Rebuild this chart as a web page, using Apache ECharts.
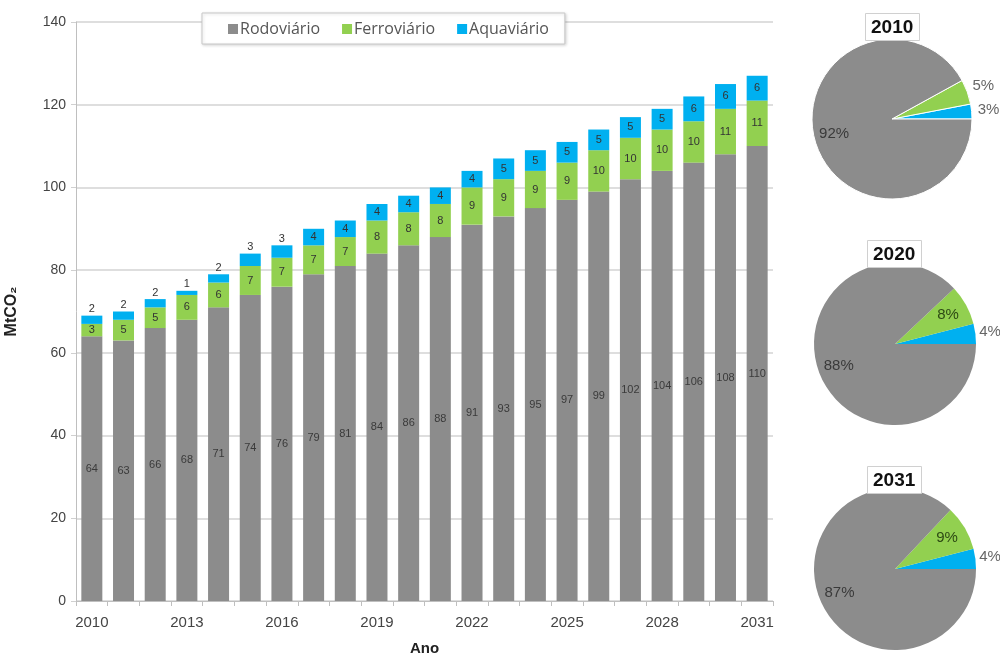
<!DOCTYPE html>
<html>
<head>
<meta charset="utf-8">
<script src="https://cdn.jsdelivr.net/npm/echarts@6/dist/echarts.min.js"></script>
<style>
html,body{margin:0;padding:0;background:#fff;}
#c{width:1000px;height:659px;}
</style>
</head>
<body>
<div id="c"></div>
<script>
// ---- data ----
var years = ['2010','2011','2012','2013','2014','2015','2016','2017','2018','2019','2020',
             '2021','2022','2023','2024','2025','2026','2027','2028','2029','2030','2031'];
var rodoviario  = [64,63,66,68,71,74,76,79,81,84,86,88,91,93,95,97,99,102,104,106,108,110];
var ferroviario = [3,5,5,6,6,7,7,7,7,8,8,8,9,9,9,9,10,10,10,10,11,11];
var aquaviario  = [2,2,2,1,2,3,3,4,4,4,4,4,4,5,5,5,5,5,5,6,6,6];
var seriesNames = ['Rodoviário','Ferroviário','Aquaviário'];
var yTicks = [0,20,40,60,80,100,120,140];

var pieYears = ['2010','2020','2031'];
var pie2010 = [92,5,3];   // Rodoviário, Ferroviário, Aquaviário (%)
var pie2020 = [88,8,4];
var pie2031 = [87,9,4];

// ---- styles ----
var cGray = '#8c8c8c', cGreen = '#92d050', cBlue = '#00b0f0';
var colors = [cGray, cGreen, cBlue];
var FONT = "'Liberation Sans', Arial, sans-serif";

var chart = echarts.init(document.getElementById('c'), null, {renderer:'canvas'});

var pieDefs = [
  {year: pieYears[0], vals: pie2010, center:[892,119], r:80, outR:1.35, inside:[true,false,false], titlePos:[865,13]},
  {year: pieYears[1], vals: pie2020, center:[895,344], r:81, outR:1.29, inside:[true,true,false], titlePos:[867,240]},
  {year: pieYears[2], vals: pie2031, center:[895,569], r:81, outR:1.29, inside:[true,true,false], titlePos:[867,466]}
];

var series = [];
// stacked bars
series.push({
  name: seriesNames[0], type:'bar', stack:'total', barWidth:21,
  itemStyle:{color:cGray},
  label:{show:true, position:'inside', color:'#3a3a3a', fontSize:11, fontFamily:FONT},
  data: rodoviario
});
series.push({
  name: seriesNames[1], type:'bar', stack:'total', barWidth:21,
  itemStyle:{color:cGreen},
  label:{show:true, position:'inside', color:'#333', fontSize:11, fontFamily:FONT},
  data: ferroviario
});
series.push({
  name: seriesNames[2], type:'bar', stack:'total', barWidth:21,
  itemStyle:{color:cBlue},
  label:{show:true, position:'inside', color:'#333', fontSize:11, fontFamily:FONT, distance:1},
  data: aquaviario.map(function(v){
    return {value:v, label:{position: v < 4 ? 'top' : 'inside'}};
  })
});

var titles = [];
pieDefs.forEach(function(p, idx){
  // order: Aquaviário, Ferroviário, Rodoviário counter-clockwise from 3 o'clock
  var order = [2,1,0];
  var baseData = order.map(function(k){
    return {name: seriesNames[k], value: p.vals[k], itemStyle:{color: colors[k]}};
  });
  series.push({
    type:'pie', silent:true, clockwise:false, startAngle:0,
    center:p.center, radius:[0,p.r],
    label:{show:false}, labelLine:{show:false},
    itemStyle:{borderColor:'#fff', borderWidth: idx===0 ? 1 : 0},
    data: baseData
  });
  // inside labels
  series.push({
    type:'pie', silent:true, clockwise:false, startAngle:0,
    center:p.center, radius:[p.r*0.42, p.r*1.0],
    itemStyle:{color:'rgba(0,0,0,0)'}, labelLine:{show:false},
    avoidLabelOverlap:false,
    label:{show:true, position:'inside', formatter:'{c}%', fontSize:15, fontFamily:FONT, color:'#3a3a3a'},
    data: order.map(function(k){
      return {name: seriesNames[k], value: p.vals[k], label:{show: p.inside[k], color: k===1 ? '#2d4a14' : '#3a3a3a'}};
    })
  });
  // outside labels
  series.push({
    type:'pie', silent:true, clockwise:false, startAngle:0,
    center:p.center, radius:[p.r*1.0, p.r*p.outR],
    itemStyle:{color:'rgba(0,0,0,0)'}, labelLine:{show:false},
    avoidLabelOverlap:false,
    label:{show:true, position:'inside', formatter:'{c}%', fontSize:15, fontFamily:FONT, color:'#666'},
    data: order.map(function(k){
      return {name: seriesNames[k], value: p.vals[k], label:{show: !p.inside[k]}};
    })
  });
  titles.push({
    text: p.year, left:p.titlePos[0], top:p.titlePos[1],
    backgroundColor:'#fff', borderColor:'#d0d0d0', borderWidth:1, padding:[5,6,4,6],
    textStyle:{fontSize:19, fontWeight:'bold', color:'#111', fontFamily:FONT}
  });
});

var option = {
  animation:false,
  backgroundColor:'#fff',
  title: titles,
  legend:{
    data: seriesNames, left:202, top:13,
    backgroundColor:'#fff', borderColor:'#c8c8c8', borderWidth:1,
    shadowBlur:3, shadowColor:'rgba(0,0,0,0.15)', shadowOffsetX:1, shadowOffsetY:1,
    padding:[8,16,7,26], itemGap:22, itemWidth:10, itemHeight:10, icon:'rect',
    textStyle:{fontSize:16, color:'#555', fontFamily:"'Open Sans', sans-serif", padding:[0,0,0,-3]}
  },
  grid:{left:76, right:227, top:22, bottom:58, containLabel:false, outerBoundsMode:'none'},
  xAxis:{
    type:'category', data: years,
    name:'Ano', nameLocation:'middle', nameGap:40,
    nameTextStyle:{fontSize:15, fontWeight:'bold', color:'#222', fontFamily:FONT},
    axisLine:{show:true, lineStyle:{color:'#bfbfbf', width:1}},
    axisTick:{show:true, interval:0, length:5, lineStyle:{color:'#bfbfbf'}},
    axisLabel:{interval:2, fontSize:15, color:'#444', margin:14, fontFamily:FONT}
  },
  yAxis:{
    type:'value', min:yTicks[0], max:yTicks[yTicks.length-1], interval:yTicks[1]-yTicks[0],
    name:'MtCO₂', nameLocation:'middle', nameGap:56, nameRotate:90,
    nameTextStyle:{fontSize:16, fontWeight:'bold', color:'#222', fontFamily:FONT},
    axisLine:{show:true, lineStyle:{color:'#bfbfbf'}},
    axisTick:{show:true, length:5, lineStyle:{color:'#d0d0d0'}},
    axisLabel:{fontSize:14, color:'#444', margin:10, fontFamily:FONT},
    splitLine:{lineStyle:{color:'#dedede', width:2}}
  },
  series: series
};
chart.setOption(option);
</script>
</body>
</html>
